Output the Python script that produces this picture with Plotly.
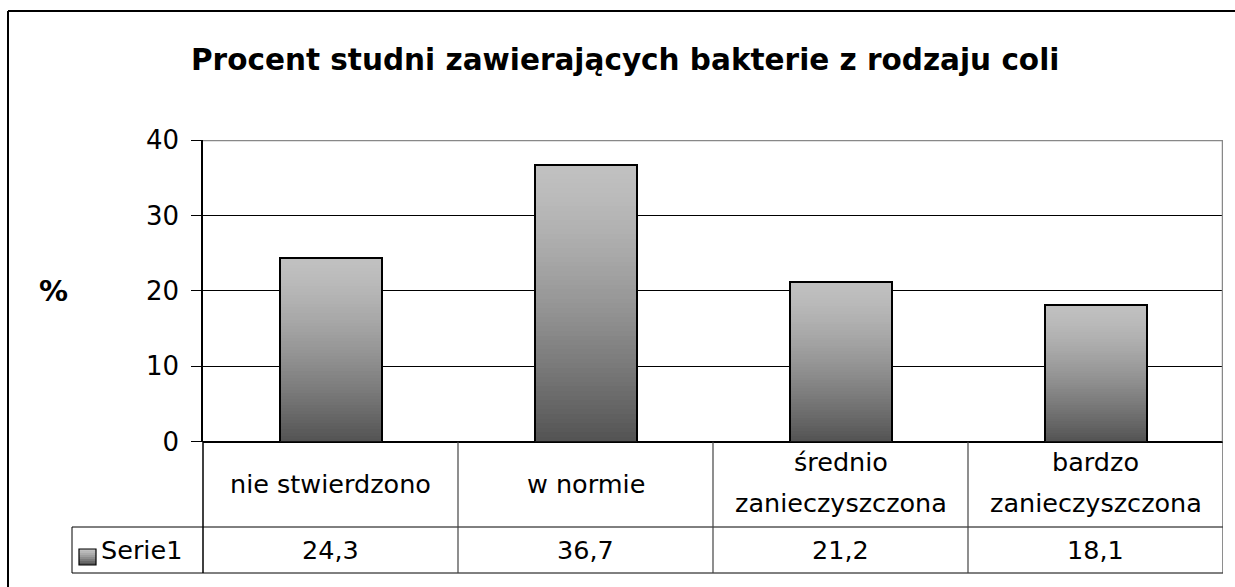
import plotly.graph_objects as go

# ---- data ----
categories = ["nie stwierdzono", "w normie", "średnio<br>zanieczyszczona", "bardzo<br>zanieczyszczona"]
values = [24.3, 36.7, 21.2, 18.1]
value_labels = ["24,3", "36,7", "21,2", "18,1"]
series_name = "Serie1"
title_text = "Procent studni zawierających bakterie z rodzaju coli"
y_title = "%"
y_ticks = [0, 10, 20, 30, 40]

W, H = 1235, 587
FONT = "DejaVu Sans"

def px(x):
    return x / W

def py(y):
    return 1 - y / H

x_pos = list(range(len(categories)))
N = 60
top_rgb = (192, 192, 192)
bot_rgb = (84, 84, 84)

def grad_color(t):  # t: 0 at top, 1 at bottom
    t = t ** 1.35
    r = [int(round(top_rgb[i] + (bot_rgb[i] - top_rgb[i]) * t)) for i in range(3)]
    return f"rgb({r[0]},{r[1]},{r[2]})"

fig = go.Figure()

# gradient bars as nested bars from 0 (light full bar first, darker shorter bars on top)
gx, gy, gc = [], [], []
for k in range(N):
    frac = (N - k) / N
    t = k / (N - 1)
    for xi, v in zip(x_pos, values):
        gx.append(xi)
        gy.append(v * frac)
        gc.append(grad_color(t))
fig.add_trace(go.Bar(x=gx, y=gy, width=0.4, marker=dict(color=gc, line=dict(width=0)),
                     hoverinfo="skip", showlegend=False))
# outline
fig.add_trace(go.Bar(x=x_pos, y=values, width=0.4, name=series_name,
                     marker=dict(color="rgba(0,0,0,0)", line=dict(color="black", width=2)),
                     showlegend=False))

x0, x1 = 203, 1223
y_top, y_zero = 140, 441.7
row1, row2 = 527, 573
leg_left = 72

fig.update_layout(
    template="none",
    width=W, height=H, autosize=False,
    margin=dict(l=0, r=0, t=0, b=0, pad=0, autoexpand=False),
    paper_bgcolor="white", plot_bgcolor="white",
    barmode="overlay", bargap=0,
    font=dict(family=FONT, color="black", size=25.5),
    xaxis=dict(domain=[px(x0), px(x1)], range=[-0.5, len(categories) - 0.5],
               showticklabels=False, showgrid=False, zeroline=False, showline=False,
               ticks="", automargin=False, fixedrange=True),
    yaxis=dict(domain=[py(y_zero), py(y_top)], range=[0, 40], tickvals=y_ticks,
               ticks="outside", ticklen=10, tickcolor="black", tickwidth=1,
               showline=True, linecolor="black", linewidth=1.5,
               showgrid=True, gridcolor="black", gridwidth=1,
               zeroline=True, zerolinecolor="black", zerolinewidth=1.5,
               tickfont=dict(family=FONT, size=26, color="black"),
               ticklabelstandoff=7, automargin=False, fixedrange=True),
)

shapes = []
# outer chart border (top + left)
shapes.append(dict(type="line", xref="paper", yref="paper", x0=px(8), x1=px(1300), y0=py(11), y1=py(11),
                   line=dict(color="black", width=2)))
shapes.append(dict(type="line", xref="paper", yref="paper", x0=px(8), x1=px(8), y0=py(11), y1=py(650),
                   line=dict(color="black", width=2)))
# top gridline (40) gray and right plot border gray
shapes.append(dict(type="line", xref="x", yref="y", x0=-0.5, x1=len(categories) - 0.5, y0=40, y1=40,
                   line=dict(color="#888888", width=2.5)))
shapes.append(dict(type="line", xref="x", yref="y", x0=len(categories) - 0.5, x1=len(categories) - 0.5, y0=0, y1=40,
                   line=dict(color="#888888", width=2.5)))
# data table
shapes.append(dict(type="line", xref="paper", yref="paper", x0=px(leg_left), x1=px(x1), y0=py(row1), y1=py(row1),
                   line=dict(color="black", width=1)))
shapes.append(dict(type="line", xref="paper", yref="paper", x0=px(leg_left), x1=px(x1), y0=py(row2), y1=py(row2),
                   line=dict(color="black", width=1)))
shapes.append(dict(type="line", xref="paper", yref="paper", x0=px(leg_left), x1=px(leg_left), y0=py(row1), y1=py(row2),
                   line=dict(color="black", width=1)))
shapes.append(dict(type="line", xref="paper", yref="paper", x0=px(x0), x1=px(x0), y0=py(y_zero), y1=py(row2),
                   line=dict(color="black", width=1.5)))
for i in range(len(categories)):
    xb = i + 0.5
    shapes.append(dict(type="line", xref="x", yref="paper", x0=xb, x1=xb, y0=py(y_zero), y1=py(row2),
                       line=dict(color="#444444", width=1.2)))
# legend key gradient square
kx0, kx1, ky0, ky1 = 79, 96, 549, 565
nk = 8
for j in range(nk):
    ya = ky0 + (ky1 - ky0) * j / nk
    yb = ky0 + (ky1 - ky0) * (j + 1) / nk
    shapes.append(dict(type="rect", xref="paper", yref="paper", x0=px(kx0), x1=px(kx1), y0=py(ya), y1=py(yb),
                       line=dict(width=0), fillcolor=grad_color(j / (nk - 1))))
shapes.append(dict(type="rect", xref="paper", yref="paper", x0=px(kx0), x1=px(kx1), y0=py(ky0), y1=py(ky1),
                   line=dict(color="black", width=1.2), fillcolor="rgba(0,0,0,0)"))
fig.update_layout(shapes=shapes)

ann = []
ann.append(dict(text=f"<b>{title_text}</b>", xref="paper", yref="paper", x=px(625), y=py(60),
                xanchor="center", yanchor="middle", showarrow=False,
                font=dict(family=FONT, size=29.5, color="black")))
ann.append(dict(text=f"<b>{y_title}</b>", xref="paper", yref="paper", x=px(53), y=py(291),
                xanchor="center", yanchor="middle", showarrow=False,
                font=dict(family=FONT, size=29, color="black")))
for xi, cat, vl in zip(x_pos, categories, value_labels):
    lines = cat.split("<br>")
    if len(lines) == 1:
        ann.append(dict(text=lines[0], xref="x", yref="paper", x=xi, y=py(484),
                        xanchor="center", yanchor="middle", showarrow=False))
    else:
        for ln, yy in zip(lines, [462, 503]):
            ann.append(dict(text=ln, xref="x", yref="paper", x=xi, y=py(yy),
                            xanchor="center", yanchor="middle", showarrow=False))
    ann.append(dict(text=vl, xref="x", yref="paper", x=xi, y=py(550),
                    xanchor="center", yanchor="middle", showarrow=False))
ann.append(dict(text=series_name, xref="paper", yref="paper", x=px(99), y=py(550),
                xanchor="left", yanchor="middle", showarrow=False))
fig.update_layout(annotations=ann)

fig.write_html("out.html", config={"displayModeBar": False},
               post_script="document.body.style.margin='0';document.body.style.overflow='hidden';")
